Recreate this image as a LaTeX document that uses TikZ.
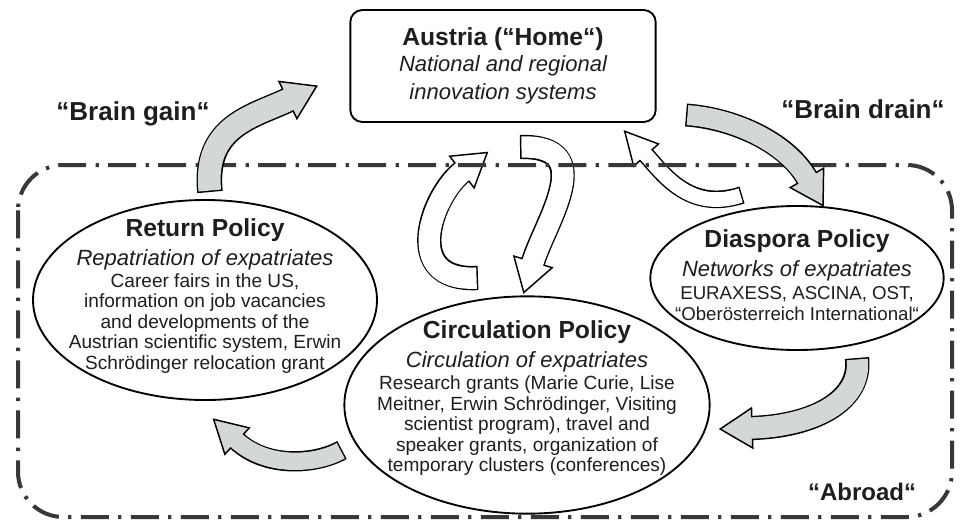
\documentclass[tikz,border=0pt]{standalone}
\usepackage{fontspec}
\setmainfont{Liberation Sans}
\usepackage{tikz}
\usetikzlibrary{shapes.geometric,decorations.markings}

\definecolor{arrowgrey}{HTML}{D3D8D5}
\definecolor{framegrey}{HTML}{383838}
\definecolor{inkgrey}{HTML}{1E1E1E}

\tikzset{
  homebox/.style={draw, rounded corners=9pt, line width=1.4pt, fill=white, align=center, text=inkgrey,
    minimum width=229pt, minimum height=84pt, font=\fontsize{16.5}{20}\selectfont},
  policy/.style={draw, ellipse, line width=1.4pt, fill=white, inner sep=0pt},
  policytext/.style={align=center, text=inkgrey, font=\fontsize{14.3}{15.4}\selectfont},
  slogan/.style={text=inkgrey, inner sep=0pt, font=\bfseries\fontsize{19.5}{22}\selectfont},
  abroadframe/.style={draw=framegrey, line width=3pt, rounded corners=34pt,
    dash pattern=on 21pt off 7pt on 2.5pt off 7pt}
}

\newcommand{\ptitle}[1]{{\bfseries\fontsize{18.5}{20}\selectfont #1}}
\newcommand{\psub}[1]{{\itshape\fontsize{16.5}{19}\selectfont #1}}

% block arrow along a curve: [fill] {body width} {path}
\newcommand{\flowarrow}[3][white]{%
  \draw[line width=#2+2.2pt] #3;
  \path[decorate, decoration={markings, mark=at position 0.999 with {%
    \filldraw[fill=#1, line width=1.1pt, line join=miter] (0pt,#2*0.5+7pt) -- (24pt,0pt) -- (0pt,-#2*0.5-7pt) -- cycle;}}] #3;
  \draw[#1, line width=#2, shorten <=1.1pt, shorten >=-1.3pt] #3;
}

\begin{document}
\begin{tikzpicture}[x=0.75pt, y=0.75pt]
\useasboundingbox (0,0) rectangle (962,-521);

% home and the three policies
\node[homebox] (home) at (503,-66) {\ptitle{Austria (“Home“)}\\[-0.5pt]
  \psub{National and regional}\\[0.5pt] \psub{innovation systems}};

\node[policy, minimum width=258pt, minimum height=150pt] (ret) at (205,-300) {};
\node[policytext] (rettext) at (205,-296) {\ptitle{Return Policy}\\[4.8pt]
  \psub{Repatriation of expatriates}\\[1pt]
  Career fairs in the US,\\ information on job vacancies\\ and developments of the\\
  Austrian scientific system, Erwin\\ Schrödinger relocation grant};

\node[policy, minimum width=274pt, minimum height=163pt] (circ) at (527,-405) {};
\node[policytext] (circtext) at (527,-398) {\ptitle{Circulation Policy}\\[4.8pt]
  \psub{Circulation of expatriates}\\[1.5pt]
  Research grants (Marie Curie, Lise\\ Meitner, Erwin Schrödinger, Visiting\\
  scientist program), travel and\\ speaker grants, organization of\\ temporary clusters (conferences)};

\node[policy, minimum width=220pt, minimum height=108pt] (dias) at (797,-278) {};
\node[policytext, font=\fontsize{14}{15.6}\selectfont] (diastext) at (797,-275) {\ptitle{Diaspora Policy}\\[5.4pt]
  \psub{Networks of expatriates}\\[1.5pt]
  EURAXESS, ASCINA, OST,\\ “Oberösterreich International“};

\node[slogan, anchor=base] (gain) at (133,-120) {“Brain gain“};
\node[slogan, anchor=base] (drain) at (863,-118) {“Brain drain“};
\node[slogan, anchor=base, font=\bfseries\fontsize{18}{20}\selectfont] (abroad) at (862,-500) {“Abroad“};

% circulation loop (white)
\coordinate (upA) at (478,-278);
\coordinate (upB) at (462,-172);
\coordinate (downA) at (520,-147);
\coordinate (downB) at (533,-262);
\coordinate (backA) at (742,-195);
\coordinate (backB) at (646,-155);
\flowarrow{16pt}{(upA) .. controls (400,-282) and (432,-195) .. (upB)}
\flowarrow{16pt}{(downA) .. controls (600,-145) and (545,-222) .. (downB)}
\flowarrow{11pt}{(backA) .. controls (690,-212) and (664,-175) .. (backB)}

\draw[abroadframe] (18,-165) rectangle (952,-517);

% flows across the border (grey)
\coordinate (gainA) at (210,-192);
\coordinate (gainB) at (288,-100);
\coordinate (drainA) at (686,-115);
\coordinate (drainB) at (807,-178);
\coordinate (outA) at (857,-358);
\coordinate (outB) at (752,-428);
\coordinate (retA) at (342,-450);
\coordinate (retB) at (237,-441);
\flowarrow[arrowgrey]{17pt}{(gainA) .. controls (203,-125) and (255,-116) .. (gainB)}
\flowarrow[arrowgrey]{15pt}{(drainA) .. controls (730,-118) and (785,-140) .. (drainB)}
\flowarrow[arrowgrey]{16pt}{(outA) .. controls (862,-400) and (815,-426) .. (outB)}
\flowarrow[arrowgrey]{13pt}{(retA) .. controls (315,-465) and (266,-468) .. (retB)}
\end{tikzpicture}
\end{document}
